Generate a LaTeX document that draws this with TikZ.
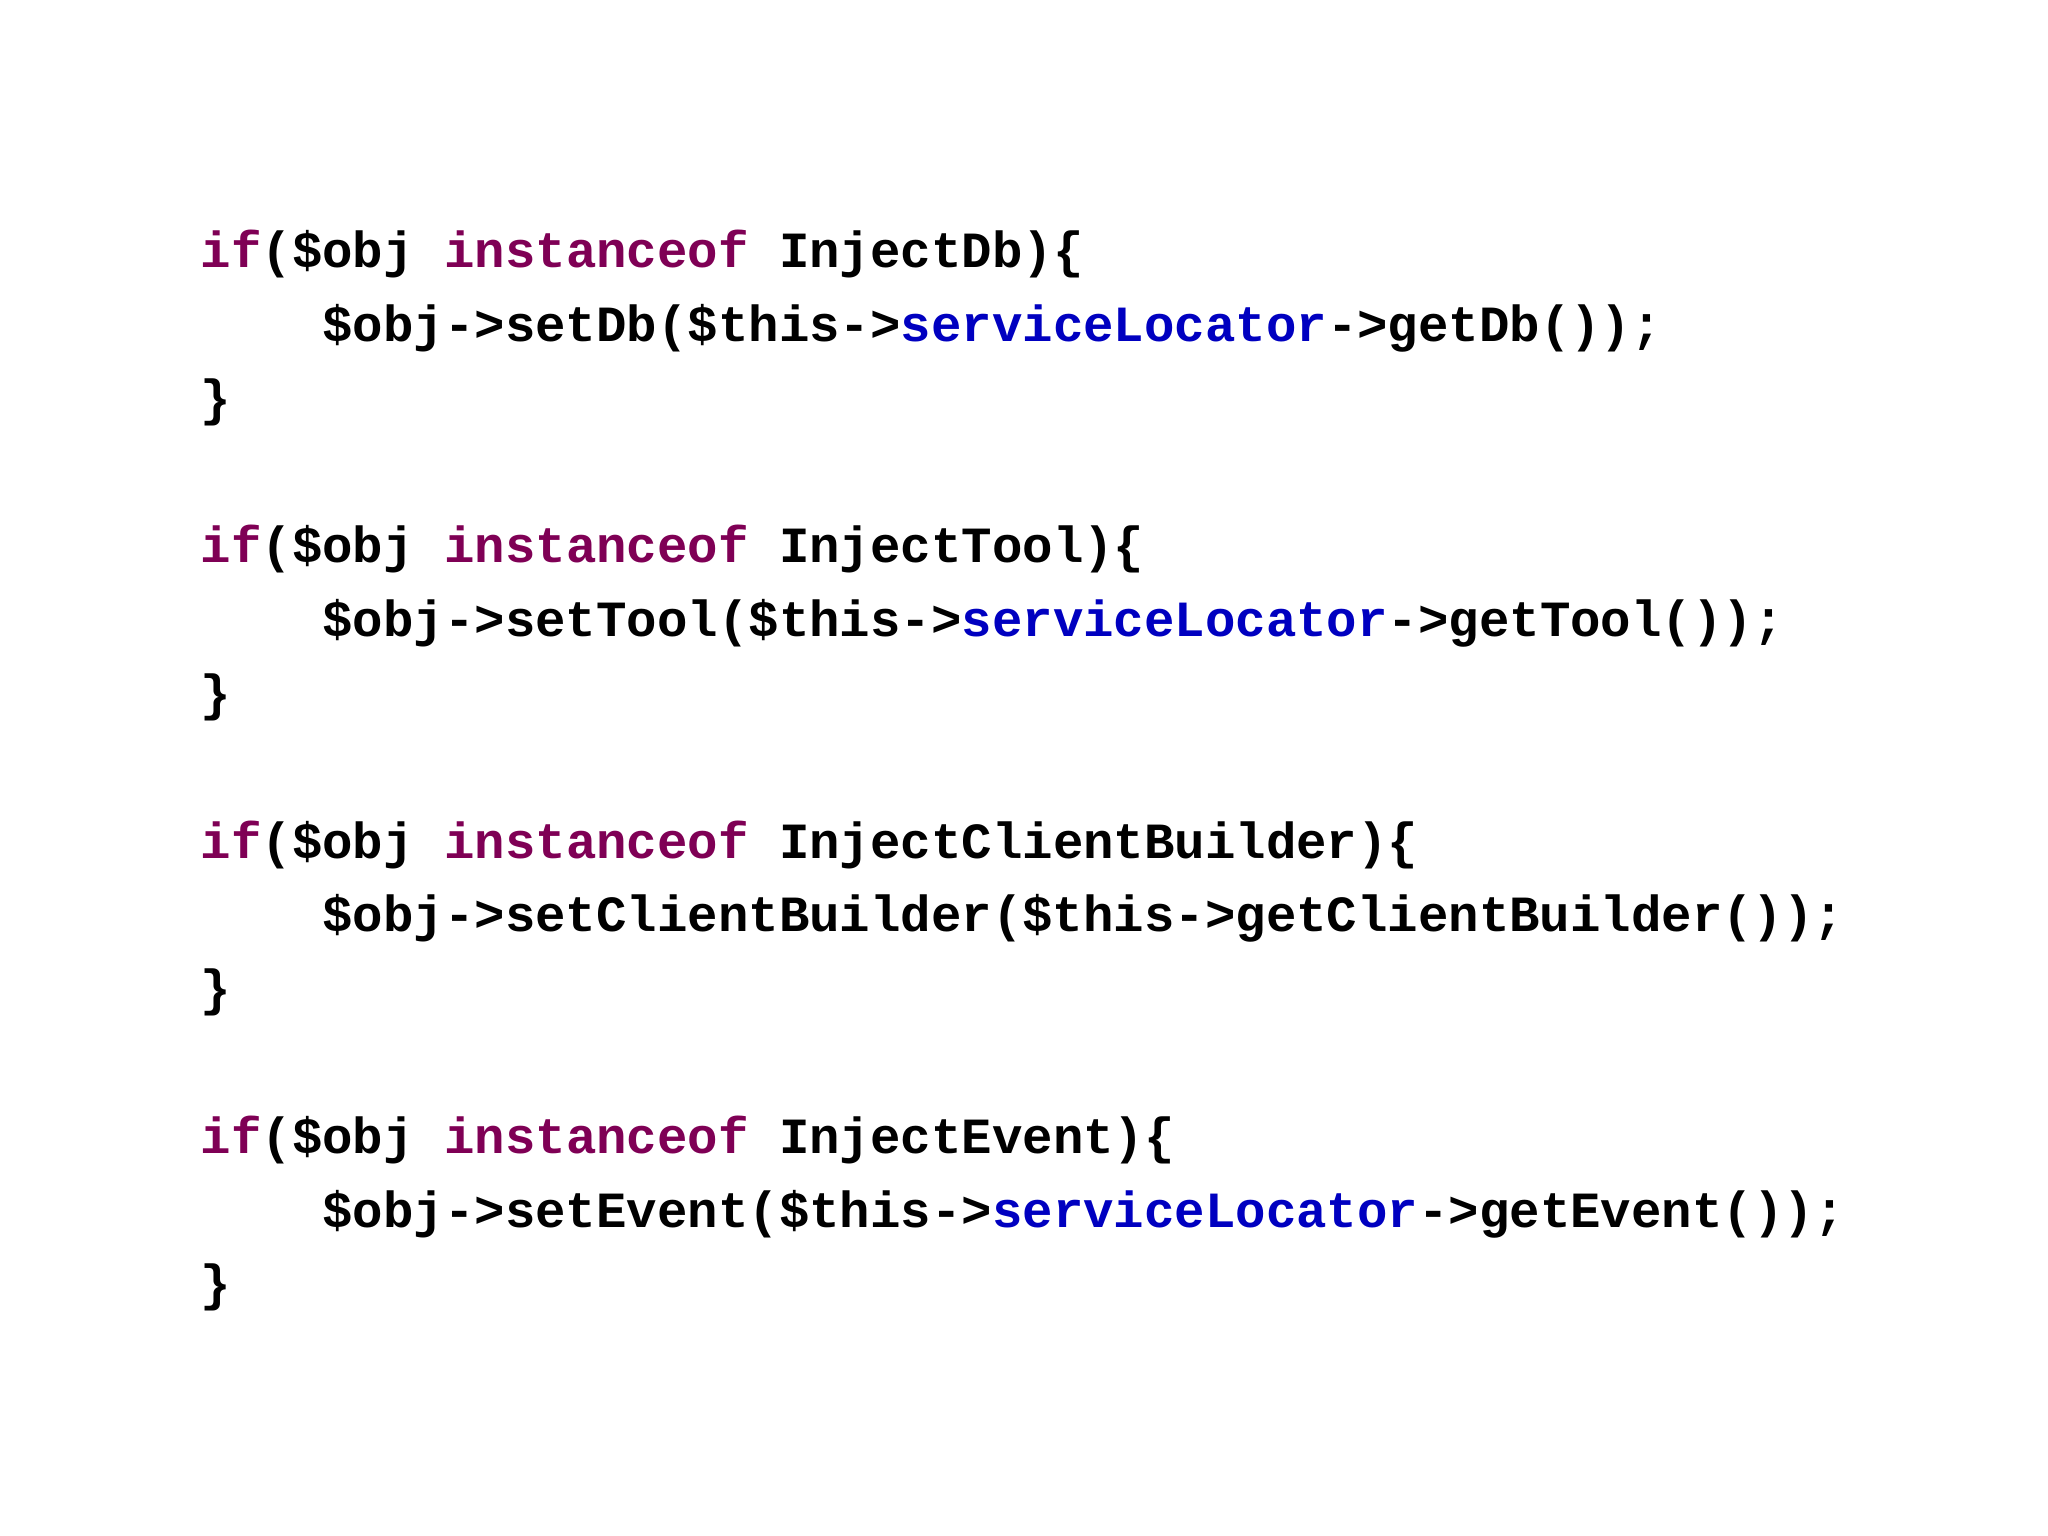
\documentclass[tikz,border=0pt]{standalone}
\usepackage{fontspec}
\setmonofont{Liberation Mono}
\definecolor{kw}{HTML}{7F0055}
\definecolor{fld}{HTML}{0000C0}
\newcommand{\K}[1]{\textcolor{kw}{#1}}
\newcommand{\F}[1]{\textcolor{fld}{#1}}
\begin{document}
\begin{tikzpicture}[code/.style={anchor=base west,inner sep=0pt,font=\ttfamily\bfseries\fontsize{11.05}{13}\selectfont,text=black}]
\useasboundingbox (0,0) rectangle (15.68,11.76);
\def\x{1.53}
\def\dy{0.565}
\def\y{9.71}
\node[code] (l1) at (\x,\y) {\K{if}(\$obj \K{instanceof} InjectDb)\{};
\node[code] (l2) at (\x,\y-\dy) {\ \ \ \ \$obj->setDb(\$this->\F{serviceLocator}->getDb());};
\node[code] (l3) at (\x,\y-2*\dy) {\}};
\node[code] (l4) at (\x,\y-4*\dy) {\K{if}(\$obj \K{instanceof} InjectTool)\{};
\node[code] (l5) at (\x,\y-5*\dy) {\ \ \ \ \$obj->setTool(\$this->\F{serviceLocator}->getTool());};
\node[code] (l6) at (\x,\y-6*\dy) {\}};
\node[code] (l7) at (\x,\y-8*\dy) {\K{if}(\$obj \K{instanceof} InjectClientBuilder)\{};
\node[code] (l8) at (\x,\y-9*\dy) {\ \ \ \ \$obj->setClientBuilder(\$this->getClientBuilder());};
\node[code] (l9) at (\x,\y-10*\dy) {\}};
\node[code] (l10) at (\x,\y-12*\dy) {\K{if}(\$obj \K{instanceof} InjectEvent)\{};
\node[code] (l11) at (\x,\y-13*\dy) {\ \ \ \ \$obj->setEvent(\$this->\F{serviceLocator}->getEvent());};
\node[code] (l12) at (\x,\y-14*\dy) {\}};
\end{tikzpicture}
\end{document}
